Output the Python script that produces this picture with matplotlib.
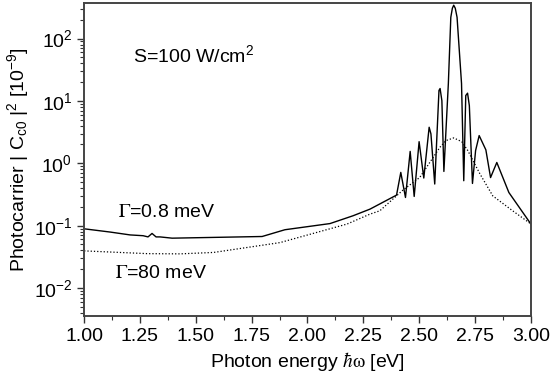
import numpy as np
import matplotlib
matplotlib.use("Agg")
import matplotlib.pyplot as plt
from matplotlib.ticker import MultipleLocator, FormatStrFormatter

plt.rcParams['font.family'] = ['Liberation Sans', 'DejaVu Sans']
plt.rcParams['mathtext.fontset'] = 'custom'
plt.rcParams['mathtext.rm'] = 'Liberation Sans'
plt.rcParams['mathtext.it'] = 'Liberation Sans:italic'
plt.rcParams['mathtext.bf'] = 'Liberation Sans:bold'
plt.rcParams['font.size'] = 14

# Gamma = 0.8 meV (solid)
e_narrow = [1.000, 1.116, 1.206, 1.264, 1.286, 1.304, 1.322, 1.340, 1.394, 1.797,
            1.899, 2.101, 2.204, 2.280, 2.399, 2.418, 2.439, 2.460, 2.478, 2.500,
            2.521, 2.545, 2.553, 2.570, 2.589, 2.594, 2.602, 2.611, 2.631, 2.642,
            2.649, 2.655, 2.662, 2.670, 2.690, 2.700, 2.709, 2.717, 2.725, 2.739,
            2.753, 2.769, 2.799, 2.820, 2.848, 2.902, 3.000]
c_narrow = [0.089, 0.079, 0.071, 0.069, 0.066, 0.075, 0.066, 0.066, 0.063, 0.067,
            0.086, 0.108, 0.144, 0.184, 0.309, 0.714, 0.283, 1.55, 0.294, 2.22,
            0.58, 3.78, 2.96, 0.465, 14.7, 15.8, 10.1, 0.74, 19.0, 219,
            306, 342, 306, 219, 19.0, 0.525, 12.2, 13.3, 8.4, 0.475,
            1.60, 2.78, 1.64, 0.59, 1.03, 0.34, 0.107]

# Gamma = 80 meV (dotted)
e_broad = [1.000, 1.282, 1.430, 1.580, 1.877, 2.177, 2.280, 2.324, 2.427, 2.503,
           2.593, 2.620, 2.655, 2.691, 2.718, 2.772, 2.830, 2.919, 3.000]
c_broad = [0.0394, 0.0356, 0.0353, 0.0372, 0.0535, 0.106, 0.153, 0.173, 0.37, 0.593,
           1.80, 2.31, 2.55, 2.22, 1.60, 0.68, 0.30, 0.173, 0.107]

fig = plt.figure(figsize=(5.5, 3.85), dpi=100)
ax = fig.add_axes([0.153, 0.179, 0.812, 0.813])

ax.plot(e_narrow, c_narrow, color='black', lw=1.0)
ax.plot(e_broad, c_broad, color='black', lw=0.9, linestyle=(0, (1, 1.6)))

ax.set_yscale('log')
ax.set_xlim(1.0, 3.0)
ax.set_ylim(0.00355, 370)
ax.xaxis.set_major_locator(MultipleLocator(0.25))
ax.xaxis.set_minor_locator(MultipleLocator(0.125))
ax.xaxis.set_major_formatter(FormatStrFormatter('%.2f'))

ax.tick_params(which='both', direction='out', top=False, right=False, colors='#333333',
               labelcolor='black')
ax.tick_params(which='major', length=5, width=1.0)
ax.tick_params(which='minor', length=3, width=0.8)
for s in ax.spines.values():
    s.set_color('#444444')
    s.set_linewidth(1.4)

ax.set_xlabel(r'Photon energy $\hbar\mathrm{\omega}$ [eV]', math_fontfamily='stix', labelpad=4)
ax.set_ylabel(r'Photocarrier | C$_{\rm c0}$ |$^{2}$ [10$^{-9}$]', labelpad=2)

ax.text(1.219, 54, r'S=100 W/cm$^2$', va='center', ha='left')
ax.text(1.152, 0.16, r'$\Gamma$=0.8 meV', va='center', ha='left', math_fontfamily='stix')
ax.text(1.139, 0.0174, r'$\Gamma$=80 meV', va='center', ha='left', math_fontfamily='stix')

fig.savefig('out.png', dpi=100)
